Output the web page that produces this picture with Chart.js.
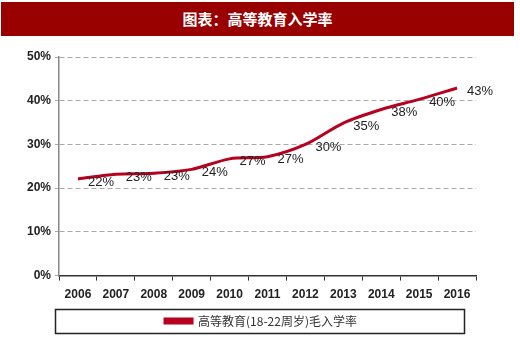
<!DOCTYPE html>
<html>
<head>
<meta charset="utf-8">
<script src="https://cdn.jsdelivr.net/npm/chart.js@4.4.0/dist/chart.umd.min.js"></script>
<style>
  html, body { margin: 0; padding: 0; background: #fff; }
  #wrap { position: relative; width: 520px; height: 341px; }
  #title {
    position: absolute; left: 1px; top: 2px; width: 513px; height: 34px;
    background: #990000; color: #fff; text-align: center;
    font: bold 15px "Noto Sans CJK SC", sans-serif; line-height: 34px;
    z-index: 2;
  }
  canvas { position: absolute; left: 0; top: 0; }
</style>
</head>
<body>
<div id="wrap">
  <div id="title">图表：高等教育入学率</div>
  <canvas id="myChart" width="520" height="341"></canvas>
</div>
<script>
const years = ["2006", "2007", "2008", "2009", "2010", "2011", "2012", "2013", "2014", "2015", "2016"];
const rates = [22.1, 23.2, 23.4, 24.3, 26.7, 27.2, 30.0, 34.9, 38.0, 40.3, 42.9];
const seriesName = "高等教育(18-22周岁)毛入学率";

const narrow = "'Liberation Sans Narrow', 'Arial Narrow', 'Liberation Sans', Arial, sans-serif";

// value labels to the right of each point
const pointLabels = {
  id: "pointLabels",
  afterDatasetsDraw(chart) {
    const ctx = chart.ctx;
    const meta = chart.getDatasetMeta(0);
    ctx.save();
    ctx.font = "13px " + narrow;
    ctx.fillStyle = "#222";
    ctx.textAlign = "left";
    ctx.textBaseline = "middle";
    meta.data.forEach(function (pt, i) {
      ctx.fillText(Math.round(rates[i]) + "%", pt.x + 10, pt.y + 3);
    });
    ctx.restore();
  }
};

// legend sits a bit right and has a frame round it
const legendFrame = {
  id: "legendFrame",
  afterLayout(chart) {
    chart.legend.left += 23;
    chart.legend.right += 23;
  },
  afterDraw(chart) {
    const ctx = chart.ctx;
    ctx.save();
    ctx.strokeStyle = "#222";
    ctx.lineWidth = 1.5;
    ctx.strokeRect(55.5, 309.5, 409, 24);
    ctx.restore();
  }
};

function renderChart() {
  const ctx = document.getElementById("myChart");
  const config = {
    type: "line",
    data: {
      labels: years,
      datasets: [
        {
          label: seriesName,
          data: rates,
          borderColor: "#B8001F",
          backgroundColor: "#B8001F",
          borderWidth: 3,
          pointRadius: 0,
          tension: 0.3,
        },
      ],
    },
    options: {
      responsive: false,
      animation: false,
      layout: { padding: { top: 57, right: 44, bottom: 4, left: 0 } },
      plugins: {
        tooltip: { enabled: false },
        legend: {
          position: "bottom",
          labels: {
            boxWidth: 27,
            boxHeight: 4,
            padding: 6,
            color: "#333",
            font: { family: "'Noto Sans CJK SC', sans-serif", size: 12 },
          },
        },
      },
      scales: {
        x: {
          offset: true,
          border: { color: "#333", width: 1.5 },
          grid: { drawOnChartArea: false, tickLength: 5, color: "#333", offset: true },
          ticks: { color: "#222", padding: 7, font: { family: narrow, size: 12, weight: "bold" } },
        },
        y: {
          min: 0,
          max: 50,
          border: { color: "#888", width: 1.5, dash: [5, 3] },
          grid: { color: "#aaa", tickLength: 4, lineWidth: 1, tickBorderDash: [] },
          ticks: {
            stepSize: 10,
            color: "#222",
            padding: 4,
            font: { family: narrow, size: 12, weight: "bold" },
            callback: (v) => v + "%",
          },
          afterFit(scale) { scale.width = 59; },
        },
      },
    },
    plugins: [pointLabels, legendFrame],
  };
  new Chart(ctx, config);
}

renderChart();
</script>
</body>
</html>
